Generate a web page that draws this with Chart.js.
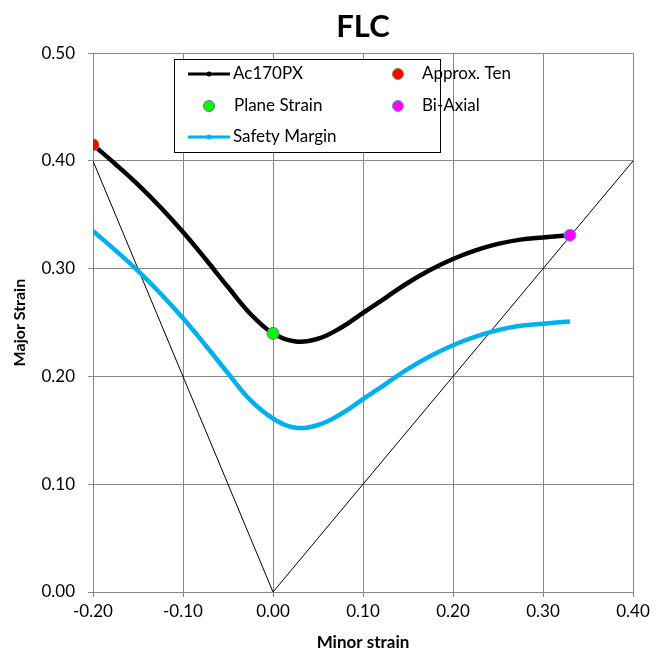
<!DOCTYPE html>
<html lang="en">
<head>
  <meta charset="UTF-8">
  <title>FLC</title>
  <style>
    html, body { margin: 0; padding: 0; background: #fff; }
    #wrap { width: 664px; height: 657px; }
  </style>
</head>
<body>
  <div id="wrap"><canvas id="flc" width="664" height="657"></canvas></div>

  <script src="https://cdn.jsdelivr.net/npm/chart.js"></script>
  <script>
    // Ac170PX curve (minor strain, major strain)
    const minorAc = [-0.20, -0.175, -0.15, -0.125, -0.10, -0.075, -0.05, -0.025, 0.00, 0.025, 0.05, 0.075, 0.10, 0.125, 0.15, 0.175, 0.20, 0.225, 0.25, 0.275, 0.30, 0.33];
    const majorAc = [0.415, 0.397, 0.378, 0.357, 0.334, 0.309, 0.283, 0.258, 0.240, 0.2325, 0.235, 0.245, 0.259, 0.273, 0.287, 0.299, 0.309, 0.317, 0.323, 0.327, 0.329, 0.331];

    // Safety margin curve
    const minorSafe = [-0.20, -0.175, -0.15, -0.125, -0.10, -0.075, -0.05, -0.025, 0.00, 0.025, 0.05, 0.075, 0.10, 0.125, 0.15, 0.175, 0.20, 0.225, 0.25, 0.275, 0.30, 0.33];
    const majorSafe = [0.335, 0.317, 0.298, 0.277, 0.254, 0.229, 0.203, 0.178, 0.161, 0.1525, 0.155, 0.165, 0.179, 0.193, 0.207, 0.219, 0.229, 0.237, 0.243, 0.247, 0.249, 0.251];

    // reference V lines
    const minorRef = [-0.20, 0.00, 0.40];
    const majorRef = [0.40, 0.00, 0.40];

    // single points
    const approxTen = [-0.20, 0.415];
    const planeStrain = [0.00, 0.240];
    const biAxial = [0.33, 0.331];

    const xTicks = [-0.2, -0.1, 0, 0.1, 0.2, 0.3, 0.4];
    const yTicks = [0, 0.1, 0.2, 0.3, 0.4, 0.5];

    const pts = (xs, ys) => xs.map((x, i) => ({ x: x, y: ys[i] }));
    const fmt = v => (Math.abs(v) < 1e-9 ? 0 : v).toFixed(2);
    const FONT = 'Lato, "Open Sans", sans-serif';

    // legend drawn as a framed box inside the plot, like the original
    const boxLegend = {
      id: 'boxLegend',
      afterDraw(chart) {
        const c = chart.ctx;
        const ds = chart.data.datasets;
        c.save();
        c.fillStyle = '#fff';
        c.fillRect(174, 59, 266, 93);
        c.strokeStyle = '#000';
        c.lineWidth = 1;
        c.strokeRect(174.5, 59.5, 266, 93);
        c.font = '17px ' + FONT;
        c.fillStyle = '#000';
        c.textBaseline = 'middle';
        const line = (d, y) => {
          c.strokeStyle = d.borderColor;
          c.lineWidth = 3;
          c.beginPath(); c.moveTo(188, y); c.lineTo(230, y); c.stroke();
          c.fillStyle = d.borderColor;
          c.beginPath(); c.arc(209, y, 2.5, 0, Math.PI * 2); c.fill();
        };
        const dot = (d, x, y) => {
          c.fillStyle = d.backgroundColor;
          c.strokeStyle = d.borderColor;
          c.lineWidth = 1;
          c.beginPath(); c.arc(x, y, 5.5, 0, Math.PI * 2); c.fill(); c.stroke();
        };
        const text = (t, x, y) => { c.fillStyle = '#000'; c.fillText(t, x, y); };
        line(ds[0], 74); text(ds[0].label, 233, 74);
        dot(ds[2], 398, 74); text(ds[2].label, 422, 74);
        dot(ds[3], 209, 106); text(ds[3].label, 234, 106);
        dot(ds[4], 398, 106); text(ds[4].label, 422, 106);
        line(ds[1], 137); text(ds[1].label, 233, 137);
        c.restore();
      }
    };

    const chart = new Chart(document.getElementById('flc'), {
      type: 'line',
      data: {
        datasets: [
          {
            label: 'Ac170PX',
            data: pts(minorAc, majorAc),
            borderColor: '#000000',
            borderWidth: 4.5,
            pointRadius: 0,
            tension: 0.4,
            order: 3
          },
          {
            label: 'Safety Margin',
            data: pts(minorSafe, majorSafe),
            borderColor: '#00B0F0',
            borderWidth: 4.5,
            pointRadius: 0,
            tension: 0.4,
            order: 4
          },
          {
            label: 'Approx. Ten',
            data: [{ x: approxTen[0], y: approxTen[1] }],
            showLine: false,
            backgroundColor: '#FF0000',
            borderColor: '#77933C',
            pointRadius: 6,
            pointBorderWidth: 1,
            order: 1
          },
          {
            label: 'Plane Strain',
            data: [{ x: planeStrain[0], y: planeStrain[1] }],
            showLine: false,
            backgroundColor: '#00FF00',
            borderColor: '#8064A2',
            pointRadius: 6,
            pointBorderWidth: 1,
            order: 1
          },
          {
            label: 'Bi-Axial',
            data: [{ x: biAxial[0], y: biAxial[1] }],
            showLine: false,
            backgroundColor: '#FF00FF',
            borderColor: '#4BACC6',
            pointRadius: 6,
            pointBorderWidth: 1,
            order: 1
          },
          {
            label: 'ref',
            data: pts(minorRef, majorRef),
            borderColor: '#000000',
            borderWidth: 1,
            pointRadius: 0,
            tension: 0,
            order: 5
          }
        ]
      },
      options: {
        responsive: false,
        animation: false,
        events: [],
        layout: { padding: { left: 0, right: 31, top: 0, bottom: 0 } },
        plugins: {
          legend: { display: false },
          tooltip: { enabled: false },
          title: {
            display: true,
            text: 'FLC',
            fullSize: false,
            color: '#000',
            font: { family: FONT, size: 31, weight: 'bold', lineHeight: 1.2 },
            padding: { top: 8, bottom: 8 }
          }
        },
        scales: {
          x: {
            type: 'linear',
            min: -0.2,
            max: 0.4,
            afterBuildTicks: s => { s.ticks = xTicks.map(v => ({ value: v })); },
            afterFit: s => { s.height = 65; },
            ticks: {
              color: '#000',
              font: { family: FONT, size: 17 },
              padding: 4,
              maxRotation: 0,
              callback: v => fmt(v)
            },
            grid: { color: '#878787', lineWidth: 1, tickLength: 5 },
            border: { color: '#878787' },
            title: {
              display: true,
              text: 'Minor strain',
              color: '#000',
              font: { family: FONT, size: 17, weight: 'bold', lineHeight: 1.2 },
              padding: { top: 0 }
            }
          },
          y: {
            type: 'linear',
            min: 0,
            max: 0.5,
            afterBuildTicks: s => { s.ticks = yTicks.map(v => ({ value: v })); },
            afterFit: s => { s.width = 93; },
            ticks: {
              color: '#000',
              font: { family: FONT, size: 17 },
              padding: 13,
              callback: v => fmt(v)
            },
            grid: { color: '#878787', lineWidth: 1, tickLength: 5 },
            border: { color: '#878787' },
            title: {
              display: true,
              text: 'Major Strain',
              color: '#000',
              font: { family: FONT, size: 16, weight: 'bold', lineHeight: 1.2 },
              padding: { top: 10 }
            }
          }
        }
      },
      plugins: [boxLegend]
    });
  </script>
</body>
</html>
